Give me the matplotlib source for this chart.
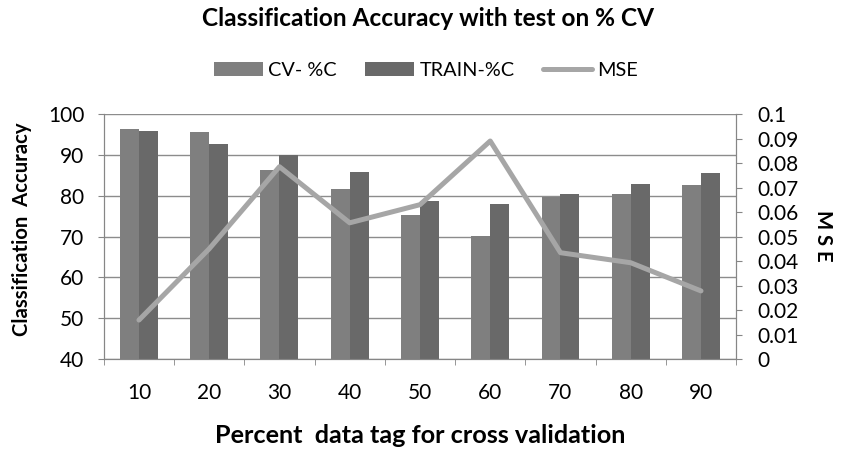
import matplotlib
matplotlib.use("Agg")
import matplotlib.pyplot as plt
import numpy as np

plt.rcParams["font.family"] = ["Lato", "DejaVu Sans"]

# Data
percents = ["10", "20", "30", "40", "50", "60", "70", "80", "90"]
cv_acc = [96.3, 95.6, 86.3, 81.6, 75.2, 70.2, 79.8, 80.4, 82.6]
train_acc = [95.8, 92.6, 89.9, 85.9, 78.7, 78.0, 80.4, 82.8, 85.5]
mse = [0.0159, 0.045, 0.0785, 0.0556, 0.063, 0.089, 0.0434, 0.0393, 0.0278]

fig = plt.figure(figsize=(8.51, 4.49), dpi=100)
ax = fig.add_axes([0.122, 0.2004, 0.743, 0.5456])
ax2 = ax.twinx()

x = np.arange(len(percents))
w = 0.27
ax.bar(x - w / 2, cv_acc, w, color="#7f7f7f", label="CV- %C", zorder=2)
ax.bar(x + w / 2, train_acc, w, color="#696969", label="TRAIN-%C", zorder=2)
ax2.plot(x, mse, color="#a6a6a6", lw=3.6, label="MSE", solid_capstyle="round")

ax.set_xlim(-0.5, len(percents) - 0.5)
ax.set_ylim(40, 100)
ax.set_yticks(range(40, 101, 10))
ax.grid(axis="y", color="#8c8c8c", lw=1, zorder=0)
ax.set_axisbelow(True)
ax2.set_ylim(0, 0.1)
ax2.set_yticks(np.arange(0, 0.101, 0.01))
ax2.set_yticklabels(["0"] + [f"{v:.2f}".rstrip("0") for v in np.arange(0.01, 0.101, 0.01)])

ax.set_xticks(x)
ax.set_xticklabels(percents)
ax.set_xticks(np.arange(-0.5, len(percents)), minor=True)
ax.tick_params(axis="x", which="major", length=0, pad=17, labelsize=15)
ax.tick_params(axis="x", which="minor", length=4, color="#868686")
ax.tick_params(axis="y", length=4, color="#868686", labelsize=15, pad=10)
ax2.tick_params(axis="y", length=4, color="#868686", labelsize=15, pad=11)

for a in (ax, ax2):
    for s in a.spines.values():
        s.set_color("#868686")
    a.spines["top"].set_visible(False)

fig.text(0.026, 0.49, "Classification  Accuracy", fontsize=14.6, fontweight="bold",
         rotation=90, ha="center", va="center")
fig.text(0.967, 0.474, "M S E", fontsize=14.6, fontweight="bold",
         rotation=-90, ha="center", va="center")
fig.text(0.4935, 0.031, "Percent  data tag for cross validation", fontsize=18.2,
         fontweight="bold", ha="center", va="center")
fig.text(0.503, 0.958, "Classification Accuracy with test on % CV", fontsize=17.6,
         fontweight="bold", ha="center", va="center")

h1, l1 = ax.get_legend_handles_labels()
h2, l2 = ax2.get_legend_handles_labels()
fig.legend(h1 + h2, l1 + l2, loc="center", bbox_to_anchor=(0.5006, 0.844), ncol=3,
           frameon=False, fontsize=14.3, borderaxespad=0, borderpad=0,
           handlelength=2.46, handleheight=0.7, columnspacing=1.46, handletextpad=0.25)

fig.set_facecolor("white")
fig.savefig("out.png", dpi=100)
